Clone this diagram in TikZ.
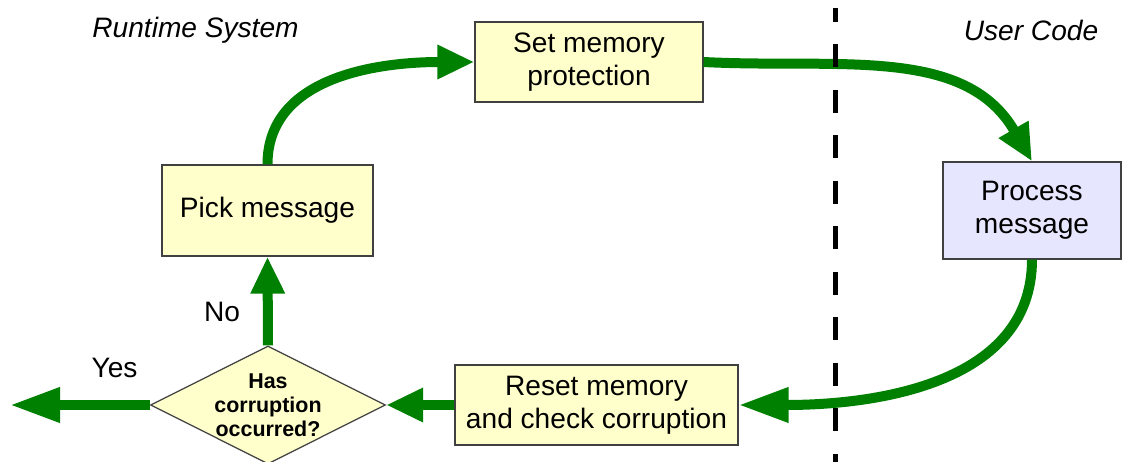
\documentclass[tikz,border=0pt]{standalone}
\usepackage{fontspec}
\setmainfont{Liberation Sans}
\usetikzlibrary{arrows.meta,shapes.geometric}

\definecolor{boxyellow}{RGB}{255,255,204}
\definecolor{boxblue}{RGB}{230,230,255}
\definecolor{flowgreen}{RGB}{0,128,0}

\tikzset{
	stepbox/.style={draw=black!75,line width=0.7pt,fill=boxyellow,align=center,inner sep=0pt,
		font=\fontsize{16}{18.5}\selectfont},
	flow/.style={draw=flowgreen,line width=0.2cm,-{Triangle[length=0.74cm,width=0.64cm]}},
	longflow/.style={flow,-{Triangle[length=1cm,width=0.66cm]}},
	lbl/.style={font=\fontsize{16}{18.5}\selectfont}
}

\begin{document}
\begin{tikzpicture}
	\useasboundingbox (0,0) rectangle (22.48,9.24);

	% boxes
	\node[stepbox,minimum width=4.56cm,minimum height=1.6cm] (setmem) at (11.78,8.00) {Set memory\\protection};
	\node[stepbox,minimum width=4.22cm,minimum height=1.82cm] (pick) at (5.35,5.03) {Pick message};
	\node[stepbox,fill=boxblue,minimum width=3.56cm,minimum height=1.94cm] (process) at (20.64,5.03) {Process\\message};
	\node[stepbox,minimum width=5.66cm,minimum height=1.6cm] (reset) at (11.93,1.14) {Reset memory\\and check corruption};
	\node[stepbox,diamond,shape aspect=2,minimum width=4.7cm,minimum height=2.36cm,
		font=\fontsize{12.2}{13.6}\selectfont\bfseries] (decide) at (5.36,1.14) {Has\\corruption\\occurred?};
	\coordinate (out) at (0.2,1.14);

	% labels
	\node[lbl,font=\fontsize{16}{18.5}\selectfont\itshape] (runtime) at (3.91,8.64) {Runtime System};
	\node[lbl,font=\fontsize{16}{18.5}\selectfont\itshape] (user) at (20.62,8.64) {User Code};

	% flow
	\draw[flow] (pick.north) to[out=90,in=180] (setmem.west);
	\draw[flow] (setmem.east) to[out=-3,in=120] (process.north);
	\draw[longflow] (process.south) to[out=-90,in=0] (reset.east);
	\draw[flow] (reset.west) -- (decide.east);
	\draw[flow] (decide.north) -- (pick.south);
	\draw[longflow] (decide.west) -- (out);
	\node[lbl] (no) at (4.44,3.01) {No};
	\node[lbl] (yes) at (2.29,1.88) {Yes};

	\draw[line width=0.1cm,dash pattern=on 0.46cm off 0.45cm,dash phase=0.18cm] (16.7,9.08) -- (16.7,0);
\end{tikzpicture}
\end{document}
